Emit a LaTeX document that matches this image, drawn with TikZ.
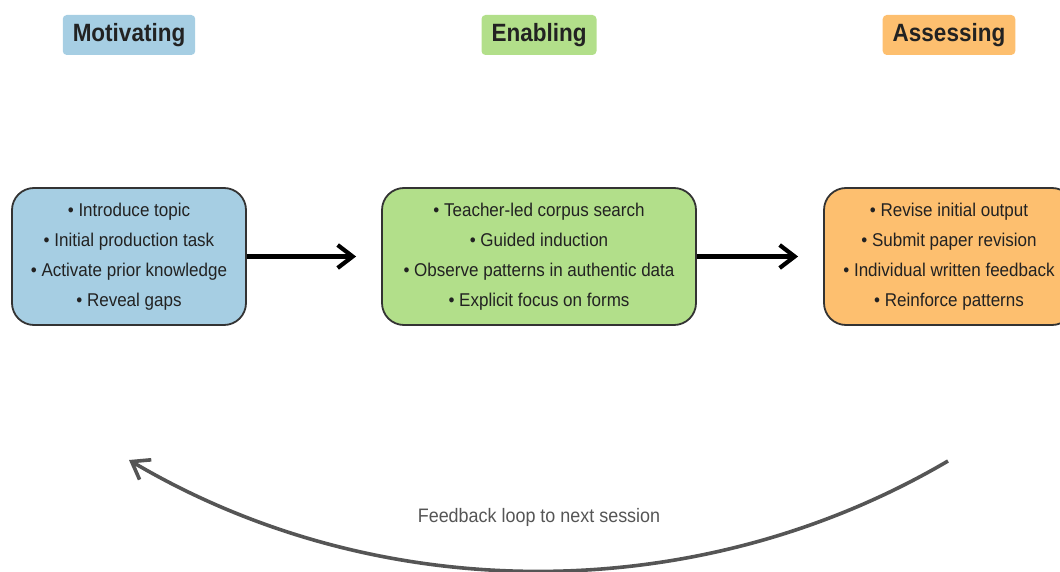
\documentclass[tikz,border=0pt]{standalone}
\usepackage{fontspec}
\setmainfont{Liberation Sans}
\newfontfamily\narrowsans[FakeStretch=0.92]{Liberation Sans}
\newfontfamily\narrowbold[FakeStretch=0.9]{Liberation Sans Bold}
\usetikzlibrary{arrows.meta}
\definecolor{motivblue}{HTML}{A6CEE3}
\definecolor{enablegreen}{HTML}{B2DF8A}
\definecolor{assessorange}{HTML}{FDBF6F}
\definecolor{edgegray}{HTML}{333333}
\definecolor{loopgray}{HTML}{555555}
\definecolor{inkdark}{HTML}{222222}

\begin{document}
\begin{tikzpicture}[x=1pt,y=1pt,
  phase/.style={rounded corners=4pt, inner xsep=10pt, inner ysep=0pt,
    minimum height=40pt, text=inkdark,
    font=\narrowbold\fontsize{25}{30}\selectfont},
  stagebox/.style={draw=edgegray, line width=1.8pt, rounded corners=22pt,
    minimum height=137pt, align=center, inner sep=0pt, text=inkdark,
    font=\narrowsans\fontsize{18.5}{30}\selectfont},
  flow/.style={line width=4.2pt, black,
    -{Straight Barb[length=15pt,width=23pt]}, shorten >=25pt},
  feedbackarc/.style={line width=3.6pt, loopgray,
    -{Straight Barb[length=16pt,width=23pt]}}]

\useasboundingbox (0,0) rectangle (1060,-572);

% phase headings
\node[phase, fill=motivblue]    (hmot) at (129,-35) {Motivating};
\node[phase, fill=enablegreen]  (hena) at (539,-35) {Enabling};
\node[phase, fill=assessorange] (hass) at (949,-35) {Assessing};

% stage boxes
\node[stagebox, fill=motivblue, minimum width=234pt] (bmot) at (129,-256.5)
  {• Introduce topic\\ • Initial production task\\ • Activate prior knowledge\\ • Reveal gaps};
\node[stagebox, fill=enablegreen, minimum width=314pt] (bena) at (539,-256.5)
  {• Teacher-led corpus search\\ • Guided induction\\ • Observe patterns in authentic data\\ • Explicit focus on forms};
\node[stagebox, fill=assessorange, minimum width=250pt] (bass) at (949,-256.5)
  {• Revise initial output\\ • Submit paper revision\\ • Individual written feedback\\ • Reinforce patterns};

% forward flow
\draw[flow] (bmot.east) -- (bena.west);
\draw[flow] (bena.east) -- (bass.west);

% feedback loop back to the first stage
\coordinate (fbstart) at (948,-461);
\coordinate (fbend)   at (129,-460);
\draw[feedbackarc] (fbstart) to[bend left=30.5, looseness=0.91] (fbend);
\node[text=loopgray, font=\narrowsans\fontsize{19.5}{24}\selectfont] (fblabel)
  at (539,-517) {Feedback loop to next session};

\end{tikzpicture}
\end{document}
